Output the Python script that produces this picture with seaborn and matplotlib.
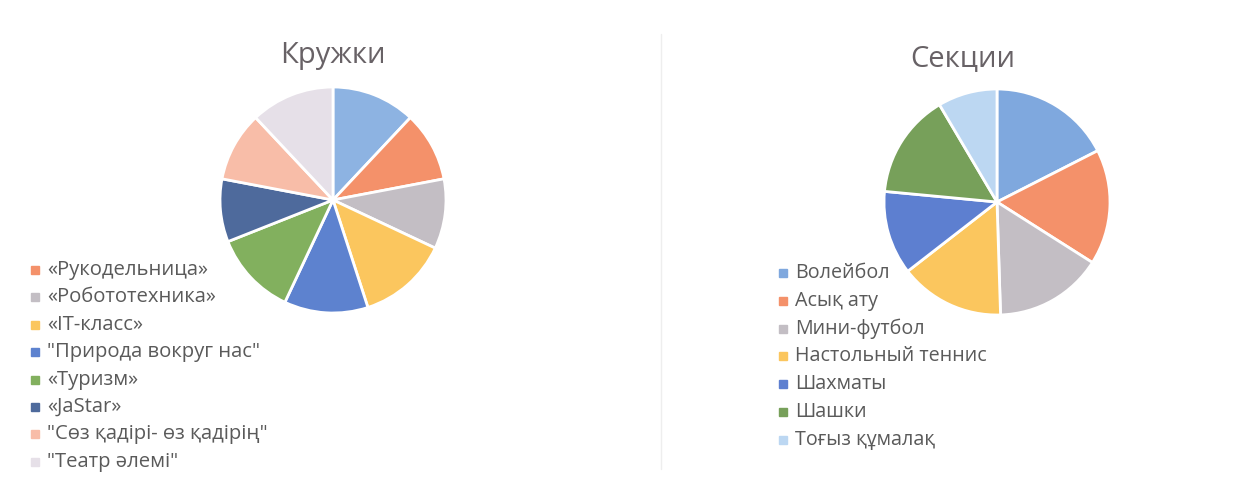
import matplotlib
matplotlib.use("Agg")
import matplotlib.pyplot as plt
import seaborn as sns
from matplotlib.lines import Line2D

sns.set_theme(style="white")
plt.rcParams['font.family'] = ['Open Sans', 'DejaVu Sans']

# ---- data ----
left_title = "Кружки"
left_labels = ["", "«Рукодельница»", "«Робототехника»", "«IT-класс»", "\"Природа вокруг нас\"",
               "«Туризм»", "«JaStar»", "\"Сөз қадірі- өз қадірің\"", "\"Театр әлемі\""]
left_values = [12, 10, 10, 13, 12, 12, 9, 10, 12]
left_colors = ['#8DB3E2', '#F4916A', '#C3BEC4', '#FBC65E', '#5D82CF',
               '#82B05E', '#4E6A9C', '#F8BDA8', '#E6E0E8']

right_title = "Секции"
right_labels = ["Волейбол", "Асық ату", "Мини-футбол", "Настольный теннис",
                "Шахматы", "Шашки", "Тоғыз құмалақ"]
right_values = [17.5, 16.5, 15.5, 15, 12, 15, 8.5]
right_colors = ['#7FA8DE', '#F4916A', '#C3BEC4', '#FBC65E', '#5D7FD0', '#77A05A', '#BCD7F2']

W, H = 1254, 479
fig = plt.figure(figsize=(W / 100, H / 100), dpi=100)
fig.patch.set_facecolor('white')

text_col = '#5a5a5a'
title_col = '#686266'


def pie_axes(cx, cy, r):
    return fig.add_axes([(cx - r) / W, (H - cy - r) / H, 2 * r / W, 2 * r / H])


def finish(ax):
    ax.set_xlim(-1, 1)
    ax.set_ylim(-1, 1)
    ax.set_aspect('equal')
    ax.axis('off')


axL = pie_axes(333, 200, 113)
wL, _ = axL.pie(left_values, colors=left_colors, startangle=90, counterclock=False,
                radius=1, wedgeprops=dict(edgecolor='white', linewidth=2))
finish(axL)
axR = pie_axes(997, 202, 113)
wR, _ = axR.pie(right_values, colors=right_colors, startangle=90, counterclock=False,
                radius=1, wedgeprops=dict(edgecolor='white', linewidth=2))
finish(axR)

fig.text(333 / W, 1 - 55 / H, left_title, ha='center', va='center', fontsize=21, color=title_col)
fig.text(963 / W, 1 - 59 / H, right_title, ha='center', va='center', fontsize=21, color=title_col)


def add_legend(labels, colors, x, y_top, spacing, fs):
    for i, (lab, col) in enumerate(zip(labels, colors)):
        y = y_top + i * spacing
        fig.patches.append(plt.Rectangle(((x - 4) / W, 1 - (y + 4) / H), 8 / W, 8 / H,
                                         transform=fig.transFigure, color=col, figure=fig))
        fig.text((x + 12) / W, 1 - y / H, lab, ha='left', va='center', fontsize=fs, color=text_col)


add_legend(left_labels[1:], left_colors[1:], 35, 270, 27.4, 14.6)
add_legend(right_labels, right_colors, 783, 273, 27.8, 14.2)

fig.add_artist(Line2D([661 / W, 661 / W], [0.02, 0.93], transform=fig.transFigure,
                      color='#eeeeee', linewidth=1))

fig.savefig("out.png", dpi=100, facecolor='white')
